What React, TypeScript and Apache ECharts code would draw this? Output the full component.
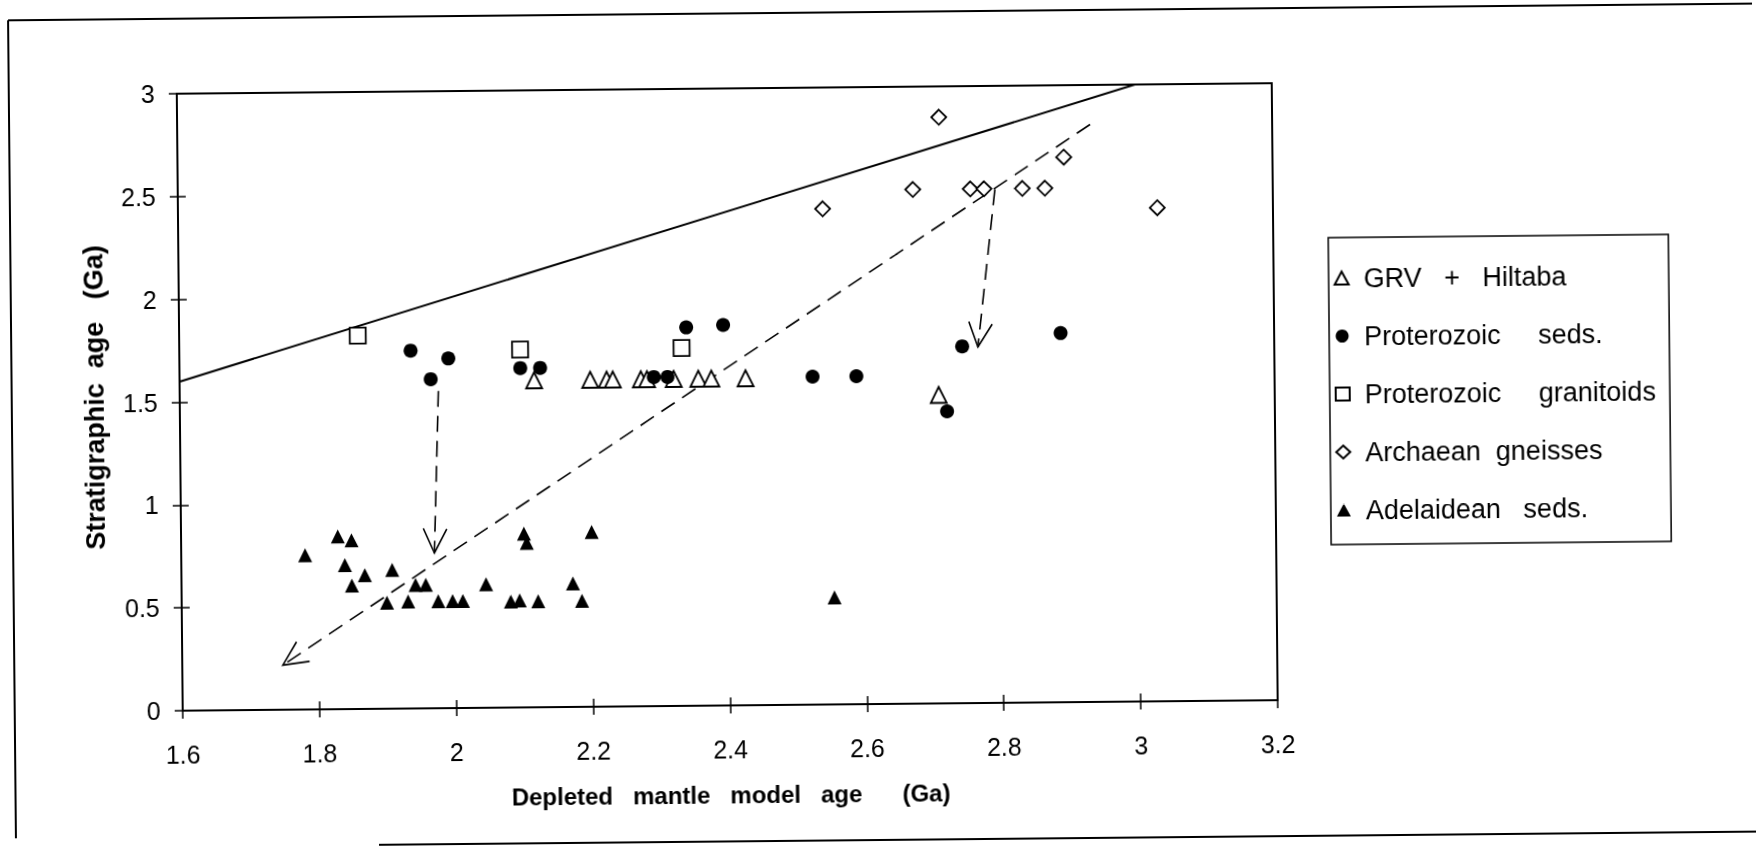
import { useEffect, useRef } from "react";
import * as echarts from "echarts";

const FONT = '"Liberation Sans", Arial, Helvetica, sans-serif';

// axis ranges
const xRange = [1.6, 3.2];
const yRange = [0, 3];
const xStep = 0.2;
const yStep = 0.5;

const seriesNames = [
  "GRV   +   Hiltaba",
  "Proterozoic     seds.",
  "Proterozoic     granitoids",
  "Archaean  gneisses",
  "Adelaidean   seds.",
];

// [model age, stratigraphic age]
const grvHiltaba = [
  [2.118, 1.59], [2.2, 1.59], [2.224, 1.59], [2.233, 1.59], [2.274, 1.59],
  [2.283, 1.59], [2.322, 1.59], [2.358, 1.59], [2.377, 1.59], [2.427, 1.59],
  [2.709, 1.5],
];
const proterozoicSeds = [
  [1.938, 1.74], [1.967, 1.6], [1.993, 1.7], [2.098, 1.65], [2.127, 1.65],
  [2.293, 1.6], [2.313, 1.6], [2.341, 1.84], [2.395, 1.85], [2.525, 1.595],
  [2.589, 1.595], [2.744, 1.735], [2.721, 1.42], [2.888, 1.795],
];
const proterozoicGranitoids = [
  [1.861, 1.815], [2.098, 1.74], [2.334, 1.74],
];
const archaeanGneisses = [
  [2.542, 2.41], [2.674, 2.5], [2.713, 2.85], [2.758, 2.5], [2.778, 2.5],
  [2.834, 2.5], [2.867, 2.5], [2.895, 2.65], [3.031, 2.4],
];
const adelaideanSeds = [
  [1.781, 0.75], [1.829, 0.84], [1.849, 0.82], [1.839, 0.7], [1.849, 0.6],
  [1.868, 0.65], [1.9, 0.515], [1.908, 0.675], [1.931, 0.52], [1.942, 0.6],
  [1.957, 0.6], [1.975, 0.52], [1.996, 0.52], [2.011, 0.52], [2.045, 0.6],
  [2.081, 0.515], [2.094, 0.52], [2.101, 0.845], [2.105, 0.8], [2.121, 0.515],
  [2.172, 0.6], [2.185, 0.515], [2.2, 0.85], [2.554, 0.52],
];

// 1:1 reference line
const oneToOne = [[1.6, 1.6], [3.0, 3.0]];

// dashed arrows: start and tip
const arrowStarts = [[2.934, 2.808], [1.978, 1.543], [2.794, 2.497]];
const arrowEnds = [[1.747, 0.217], [1.97, 0.755], [2.767, 1.731]];

export default function App() {
  const ref = useRef<HTMLDivElement>(null);

  useEffect(() => {
    if (!ref.current) return;
    const chart = echarts.init(ref.current, undefined, { renderer: "svg" });

    const openStyle = { color: "#fff", borderColor: "#000", borderWidth: 1.8, opacity: 1 };
    const filledStyle = { color: "#000", borderColor: "#000", borderWidth: 0, opacity: 1 };

    const arrowData = arrowStarts.map((s, i) => [s[0], s[1], arrowEnds[i][0], arrowEnds[i][1]]);

    const axisCommon = {
      type: "value" as const,
      axisLine: { show: true, onZero: false, lineStyle: { color: "#000", width: 2 } },
      splitLine: { show: false },
    };

    const option: any = {
      animation: false,
      backgroundColor: "#fff",
      grid: {
        left: 180, top: 87, width: 1095, height: 617,
        show: true, borderColor: "#000", borderWidth: 2, backgroundColor: "transparent",
      },
      xAxis: [
        {
          ...axisCommon,
          min: xRange[0], max: xRange[1], interval: xStep, position: "bottom",
          axisTick: { show: true, length: 8, lineStyle: { color: "#000", width: 1.5 } },
          axisLabel: { fontFamily: FONT, fontSize: 25, color: "#000", margin: 31 },
          name: "Depleted   mantle   model   age      (Ga)",
          nameLocation: "middle", nameGap: 77,
          nameTextStyle: { fontFamily: FONT, fontSize: 24, fontWeight: "bold", color: "#000" },
        },
        {
          ...axisCommon,
          min: xRange[0], max: xRange[1], interval: xStep, position: "bottom",
          axisTick: { show: true, inside: true, length: 8, lineStyle: { color: "#000", width: 1.5 } },
          axisLabel: { show: false },
        },
      ],
      yAxis: [
        {
          ...axisCommon,
          min: yRange[0], max: yRange[1], interval: yStep, position: "left",
          axisTick: { show: true, length: 8, lineStyle: { color: "#000", width: 1.5 } },
          axisLabel: { fontFamily: FONT, fontSize: 25, color: "#000", margin: 22 },
          name: "Stratigraphic  age   (Ga)",
          nameLocation: "middle", nameGap: 72, nameRotate: 90,
          nameTextStyle: {
            fontFamily: FONT, fontSize: 27, fontWeight: "bold", color: "#000",
            padding: [0, 0, 0, 11],
          },
        },
        {
          ...axisCommon,
          min: yRange[0], max: yRange[1], interval: yStep, position: "left",
          axisTick: { show: true, inside: true, length: 8, lineStyle: { color: "#000", width: 1.5 } },
          axisLabel: { show: false },
        },
      ],
      legend: {
        orient: "vertical",
        left: 1330, top: 242,
        padding: [27, 14, 21, 5],
        itemGap: 31, itemWidth: 14, itemHeight: 13,
        borderColor: "#000", borderWidth: 1.5, backgroundColor: "#fff",
        data: seriesNames,
        textStyle: { fontFamily: FONT, fontSize: 27, color: "#000", padding: [0, 0, 0, 10] },
      },
      graphic: [
        { type: "line", shape: { x1: 12, y1: 12, x2: 1790, y2: 12 }, style: { stroke: "#000", lineWidth: 2 } },
        { type: "line", shape: { x1: 12, y1: 12, x2: 12, y2: 830 }, style: { stroke: "#000", lineWidth: 2 } },
        { type: "line", shape: { x1: 375, y1: 840, x2: 1790, y2: 840 }, style: { stroke: "#000", lineWidth: 2 } },
      ],
      series: [
        {
          name: seriesNames[0], type: "scatter", symbol: "triangle", symbolSize: 16,
          itemStyle: openStyle, data: grvHiltaba, z: 3,
        },
        {
          name: seriesNames[1], type: "scatter", symbol: "circle", symbolSize: 14,
          itemStyle: filledStyle, data: proterozoicSeds, z: 4,
        },
        {
          name: seriesNames[2], type: "scatter", symbol: "rect", symbolSize: 16,
          itemStyle: openStyle, data: proterozoicGranitoids, z: 3,
        },
        {
          name: seriesNames[3], type: "scatter", symbol: "diamond", symbolSize: [15, 15],
          itemStyle: openStyle, data: archaeanGneisses, z: 3,
        },
        {
          name: seriesNames[4], type: "scatter", symbol: "triangle", symbolSize: 14,
          itemStyle: filledStyle, data: adelaideanSeds, z: 3,
        },
        {
          name: "1:1", type: "line", data: oneToOne, symbol: "none",
          lineStyle: { color: "#000", width: 2 }, z: 2, silent: true,
        },
        {
          name: "arrows", type: "custom", data: arrowData, z: 2, silent: true,
          encode: { x: [0, 2], y: [1, 3] },
          renderItem: (_params: any, api: any) => {
            const p1 = api.coord([api.value(0), api.value(1)]);
            const p2 = api.coord([api.value(2), api.value(3)]);
            const ang = Math.atan2(p2[1] - p1[1], p2[0] - p1[0]);
            const L = 27;
            const a = 0.45;
            const b1 = [p2[0] - L * Math.cos(ang - a), p2[1] - L * Math.sin(ang - a)];
            const b2 = [p2[0] - L * Math.cos(ang + a), p2[1] - L * Math.sin(ang + a)];
            return {
              type: "group",
              children: [
                {
                  type: "line",
                  shape: { x1: p1[0], y1: p1[1], x2: p2[0], y2: p2[1] },
                  style: { stroke: "#000", lineWidth: 1.6, lineDash: [16, 9], fill: null },
                },
                {
                  type: "polyline",
                  shape: { points: [b1, p2, b2] },
                  style: { stroke: "#000", lineWidth: 1.6, fill: null },
                },
              ],
            };
          },
        },
      ],
    };

    chart.setOption(option);
    return () => chart.dispose();
  }, []);

  return (
    <div
      ref={ref}
      style={{
        position: "fixed",
        left: 0,
        top: 0,
        width: 1756,
        height: 849,
        background: "#fff",
        transform: "rotate(-0.55deg)",
      }}
    />
  );
}
